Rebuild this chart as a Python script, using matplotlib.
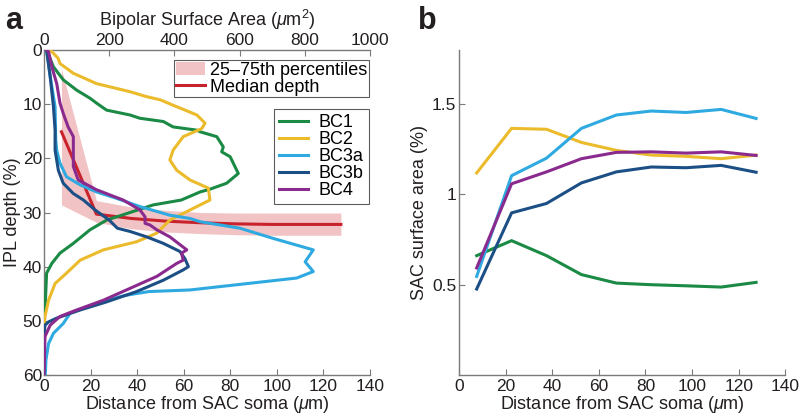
import matplotlib
matplotlib.use("Agg")
import matplotlib.pyplot as plt
from matplotlib.patches import Patch
from matplotlib.lines import Line2D

plt.rcParams['font.family'] = ['Liberation Sans', 'DejaVu Sans']
plt.rcParams['mathtext.fontset'] = 'custom'
plt.rcParams['mathtext.rm'] = 'Liberation Sans'
plt.rcParams['mathtext.it'] = 'Liberation Sans:italic'

# ---------------- data ----------------
# Panel a: bipolar surface area (um^2) vs IPL depth (%)
bc1_depth = [0.0, 3.1, 5.5, 7.4, 8.9, 9.8, 11.1, 12.0, 12.6, 13.2, 14.2, 14.8, 15.1, 16.0, 17.9, 18.8,
             19.7, 22.8, 24.6, 25.7, 26.2, 27.7, 28.6, 30.8, 31.4, 33.2, 35.7, 37.5, 39.4, 41.2, 46.7, 49.2, 60.0]
bc1_area = [8, 29, 59, 100, 141, 161, 192, 264, 294, 366, 396, 469, 479, 530, 550, 545,
            571, 596, 560, 509, 479, 421, 335, 223, 192, 141, 90, 49, 24, 8, 4, 0, 0]

bc2_depth = [0.0, 0.3, 1.5, 2.5, 4.3, 6.2, 7.7, 8.6, 9.2, 10.2, 11.0, 12.0, 13.5, 14.5, 16.0, 18.5,
             20.3, 22.2, 24.0, 25.5, 27.7, 28.6, 31.4, 33.8, 35.4, 36.9, 38.8, 41.2, 43.1, 46.2, 49.2, 51.1, 60.0]
bc2_area = [19, 24, 43, 49, 90, 161, 264, 314, 357, 396, 429, 469, 494, 484, 427, 396,
            386, 407, 448, 504, 509, 479, 386, 346, 284, 182, 111, 69, 34, 14, 3, 0, 0]

bc3a_depth = [0.0, 4.9, 10.5, 16.6, 18.5, 20.9, 23.4, 24.9, 26.2, 27.4, 28.9, 30.5, 31.1, 31.7, 32.9,
              34.8, 36.9, 39.1, 40.9, 42.1, 44.3, 44.6, 45.3, 46.2, 48.3, 48.6, 50.5, 52.3, 54.2, 57.2, 60.0]
bc3a_area = [8, 19, 34, 36, 39, 49, 69, 111, 161, 223, 294, 386, 448, 479, 601,
             704, 826, 801, 826, 775, 448, 321, 250, 192, 90, 80, 59, 29, 14, 6, 4]

bc3b_depth = [0.0, 4.9, 10.5, 14.8, 18.5, 22.2, 24.6, 26.5, 27.7, 29.5, 31.4, 32.9, 33.5, 34.5, 35.7,
              37.2, 38.5, 40.0, 40.6, 42.5, 44.6, 46.5, 48.0, 49.5, 50.2, 50.8, 52.3, 60.0]
bc3b_area = [8, 19, 29, 34, 34, 44, 59, 90, 121, 156, 200, 225, 264, 315, 366,
             417, 432, 443, 427, 366, 284, 192, 111, 39, 14, 3, 1, 0]

bc4_depth = [0.0, 0.3, 3.1, 6.2, 9.8, 11.7, 14.2, 16.0, 18.5, 21.5, 24.0, 25.8, 27.7, 29.5, 30.8, 32.0,
             32.3, 33.2, 34.5, 36.9, 37.5, 38.8, 39.4, 41.8, 44.0, 46.2, 48.0, 49.2, 50.8, 52.9, 60.0]
bc4_area = [8, 14, 24, 39, 49, 59, 74, 90, 90, 90, 105, 161, 243, 294, 310, 310,
            325, 346, 386, 438, 422, 427, 407, 346, 264, 182, 100, 49, 19, 3, 0]

# Panel a: SAC distance bins (um) with median and 25-75th percentile depth (%)
distance = [7.5, 22.5, 37.5, 52.5, 67.5, 82.5, 97.5, 112.5, 127.5]
median_depth = [15.1, 30.3, 31.1, 31.6, 31.9, 32.1, 32.2, 32.2, 32.2]
pct25_depth = [3.5, 27.8, 29.0, 29.6, 30.0, 30.1, 30.1, 30.1, 30.1]
pct75_depth = [28.6, 31.8, 33.0, 33.6, 33.9, 34.1, 34.2, 34.2, 34.2]

# Panel b: SAC surface area (%) per bipolar type
sac_bc1 = [0.661, 0.744, 0.661, 0.556, 0.509, 0.500, 0.494, 0.487, 0.513]
sac_bc2 = [1.119, 1.366, 1.361, 1.288, 1.244, 1.218, 1.211, 1.198, 1.218]
sac_bc3a = [0.546, 1.104, 1.201, 1.366, 1.440, 1.462, 1.454, 1.471, 1.421]
sac_bc3b = [0.476, 0.898, 0.950, 1.064, 1.125, 1.152, 1.148, 1.161, 1.123]
sac_bc4 = [0.593, 1.059, 1.125, 1.198, 1.233, 1.236, 1.229, 1.236, 1.216]

labels = ['BC1', 'BC2', 'BC3a', 'BC3b', 'BC4']
colors = ['#1a8a45', '#ebbb2c', '#2eaae1', '#1c4f85', '#8a2a8e']
red = '#c8222c'
pink = '#f2c3c5'
spine_c = '#7a7a7a'
text_c = '#231f20'
fs = 13
tfs = 12.5
lw = 2.2

fig = plt.figure(figsize=(8.0, 4.15), dpi=100)

# ---------------- panel a ----------------
axa = fig.add_axes([0.055, 0.0964, 0.4075, 0.7831])
axa.fill_between(distance, pct25_depth, pct75_depth, color=pink, lw=0, zorder=1)
axa.plot(distance, median_depth, color=red, lw=lw, zorder=2)
axa.set_xlim(0, 140)
axa.set_ylim(60, 0)
axa.set_xticks(range(0, 141, 20))
axa.set_yticks(range(0, 61, 10))
axa.set_xlabel('Distance from SAC soma ($\\mathit{\\mu}$m)', fontsize=fs, color=text_c, labelpad=0)
axa.set_ylabel('IPL depth (%)', fontsize=fs, color=text_c, labelpad=1)

axt = axa.twiny()
bc_depths = [bc1_depth, bc2_depth, bc3a_depth, bc3b_depth, bc4_depth]
bc_areas = [bc1_area, bc2_area, bc3a_area, bc3b_area, bc4_area]
for d, a, c, l in zip(bc_depths, bc_areas, colors, labels):
    axt.plot(a, d, color=c, lw=lw, label=l, zorder=3)
axt.set_xlim(0, 1000)
axt.set_xticks(range(0, 1001, 200))
axt.set_xlabel('Bipolar Surface Area ($\\mathit{\\mu}$m$^2$)', fontsize=fs, color=text_c, labelpad=5)

for ax in (axa, axt):
    ax.tick_params(direction='in', length=4, width=0.8, colors=spine_c, labelcolor=text_c,
                   labelsize=tfs, pad=1.5)
    for s in ax.spines.values():
        s.set_color(spine_c)
        s.set_linewidth(1.0)
    ax.spines['right'].set_visible(False)
axa.tick_params(axis='x', pad=3)
axa.spines['top'].set_visible(False)
axt.spines['bottom'].set_visible(False)
axt.spines['left'].set_visible(False)

h1 = [Patch(facecolor=pink, edgecolor='none'), Line2D([], [], color=red, lw=lw)]
leg1 = axt.legend(h1, ['25–75th percentiles', 'Median depth'], loc='upper right',
                  bbox_to_anchor=(0.997, 0.97), fontsize=fs, frameon=True, fancybox=False,
                  edgecolor='#333333', handlelength=1.6, handletextpad=0.3, borderpad=0.1,
                  labelspacing=0.0, borderaxespad=0)
leg1.get_frame().set_linewidth(0.8)
axt.add_artist(leg1)
leg2 = axt.legend(loc='upper right', bbox_to_anchor=(0.997, 0.82), fontsize=fs, frameon=True,
                  fancybox=False, edgecolor='#333333', handlelength=1.6, handletextpad=0.6,
                  borderpad=0.3, labelspacing=0.0, borderaxespad=0)
leg2.get_frame().set_linewidth(0.8)

fig.text(0.006, 0.93, 'a', fontsize=22, fontweight='bold', color=text_c)

# ---------------- panel b ----------------
axb = fig.add_axes([0.574, 0.0964, 0.4075, 0.7831])
for v, c, l in zip([sac_bc1, sac_bc2, sac_bc3a, sac_bc3b, sac_bc4], colors, labels):
    axb.plot(distance, v, color=c, lw=lw, label=l)
axb.set_xlim(0, 140)
axb.set_ylim(0, 1.8)
axb.set_xticks(range(0, 141, 20))
axb.set_yticks([0.5, 1, 1.5])
axb.set_yticklabels(['0.5', '1', '1.5'])
axb.set_xlabel('Distance from SAC soma ($\\mathit{\\mu}$m)', fontsize=fs, color=text_c, labelpad=0)
axb.set_ylabel('SAC surface area (%)', fontsize=fs, color=text_c, labelpad=3)
axb.tick_params(direction='in', length=4, width=0.8, colors=spine_c, labelcolor=text_c,
                labelsize=tfs, pad=2)
axb.tick_params(axis='x', pad=3)
for s in axb.spines.values():
    s.set_color(spine_c)
    s.set_linewidth(1.0)
axb.spines['top'].set_visible(False)
axb.spines['right'].set_visible(False)

fig.text(0.522, 0.93, 'b', fontsize=22, fontweight='bold', color=text_c)

fig.savefig('out.png', dpi=100)
